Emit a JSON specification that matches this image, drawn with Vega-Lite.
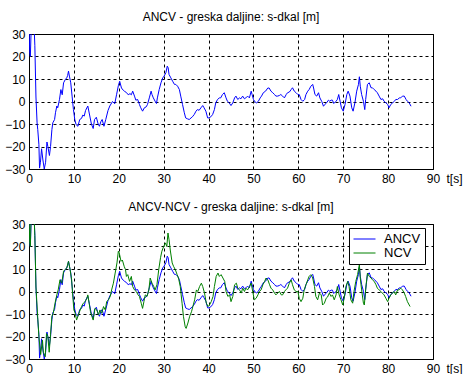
{
  "$schema": "https://vega.github.io/schema/vega-lite/v6.json",
  "padding": {"left": 4, "top": 10, "right": 0, "bottom": 0},
  "background": "white",
  "datasets": {
    "d": [
      {"t":0,"v":35,"s":"ANCV"},{"t":0.15,"v":22,"s":"ANCV"},{"t":0.3,"v":20,"s":"ANCV"},{"t":0.45,"v":30,"s":"ANCV"},{"t":0.6,"v":38,"s":"ANCV"},{"t":1.0,"v":40,"s":"ANCV"},{"t":1.3,"v":25,"s":"ANCV"},{"t":1.55,"v":2,"s":"ANCV"},{"t":1.8,"v":-9.5,"s":"ANCV"},{"t":1.95,"v":-12.5,"s":"ANCV"},{"t":2.2,"v":-19,"s":"ANCV"},{"t":2.35,"v":-29.6,"s":"ANCV"},{"t":2.55,"v":-27,"s":"ANCV"},{"t":2.8,"v":-21,"s":"ANCV"},{"t":3.1,"v":-26,"s":"ANCV"},{"t":3.4,"v":-30,"s":"ANCV"},{"t":3.7,"v":-27,"s":"ANCV"},{"t":4.0,"v":-18,"s":"ANCV"},{"t":4.2,"v":-20,"s":"ANCV"},{"t":4.55,"v":-24,"s":"ANCV"},{"t":4.8,"v":-20,"s":"ANCV"},{"t":5.1,"v":-12.5,"s":"ANCV"},{"t":5.3,"v":-9.5,"s":"ANCV"},{"t":5.7,"v":-8,"s":"ANCV"},{"t":5.9,"v":-5,"s":"ANCV"},{"t":6.2,"v":-2,"s":"ANCV"},{"t":6.4,"v":-2.8,"s":"ANCV"},{"t":6.8,"v":1,"s":"ANCV"},{"t":7.1,"v":5.3,"s":"ANCV"},{"t":7.4,"v":3,"s":"ANCV"},{"t":7.7,"v":8.3,"s":"ANCV"},{"t":8.1,"v":9.8,"s":"ANCV"},{"t":8.4,"v":10.5,"s":"ANCV"},{"t":8.6,"v":11.5,"s":"ANCV"},{"t":8.8,"v":13.5,"s":"ANCV"},{"t":9.0,"v":11.3,"s":"ANCV"},{"t":9.3,"v":8.3,"s":"ANCV"},{"t":9.6,"v":2.4,"s":"ANCV"},{"t":9.9,"v":-3.6,"s":"ANCV"},{"t":10.2,"v":-8,"s":"ANCV"},{"t":10.5,"v":-10.3,"s":"ANCV"},{"t":10.9,"v":-11,"s":"ANCV"},{"t":11.3,"v":-8,"s":"ANCV"},{"t":11.7,"v":-7.5,"s":"ANCV"},{"t":12.0,"v":-6,"s":"ANCV"},{"t":12.3,"v":-6.5,"s":"ANCV"},{"t":12.6,"v":-4,"s":"ANCV"},{"t":13.1,"v":-2,"s":"ANCV"},{"t":13.5,"v":-6,"s":"ANCV"},{"t":13.9,"v":-10,"s":"ANCV"},{"t":14.3,"v":-12,"s":"ANCV"},{"t":14.6,"v":-8,"s":"ANCV"},{"t":15.0,"v":-7,"s":"ANCV"},{"t":15.4,"v":-10,"s":"ANCV"},{"t":15.7,"v":-11,"s":"ANCV"},{"t":16.0,"v":-9,"s":"ANCV"},{"t":16.3,"v":-8,"s":"ANCV"},{"t":16.7,"v":-11,"s":"ANCV"},{"t":17.1,"v":-8,"s":"ANCV"},{"t":17.6,"v":-4,"s":"ANCV"},{"t":18.0,"v":-2,"s":"ANCV"},{"t":18.6,"v":0,"s":"ANCV"},{"t":19.1,"v":-1,"s":"ANCV"},{"t":19.5,"v":3,"s":"ANCV"},{"t":19.9,"v":7,"s":"ANCV"},{"t":20.2,"v":9,"s":"ANCV"},{"t":20.6,"v":6,"s":"ANCV"},{"t":21.0,"v":5,"s":"ANCV"},{"t":21.3,"v":4.5,"s":"ANCV"},{"t":21.7,"v":4,"s":"ANCV"},{"t":22.1,"v":3,"s":"ANCV"},{"t":22.5,"v":3.5,"s":"ANCV"},{"t":22.8,"v":3,"s":"ANCV"},{"t":23.1,"v":4.6,"s":"ANCV"},{"t":23.5,"v":2.4,"s":"ANCV"},{"t":23.8,"v":0.6,"s":"ANCV"},{"t":24.2,"v":0.9,"s":"ANCV"},{"t":24.6,"v":-1.3,"s":"ANCV"},{"t":24.9,"v":-2.8,"s":"ANCV"},{"t":25.3,"v":-4.3,"s":"ANCV"},{"t":25.7,"v":-2.8,"s":"ANCV"},{"t":26.1,"v":-2.4,"s":"ANCV"},{"t":26.4,"v":-1.3,"s":"ANCV"},{"t":26.8,"v":1.6,"s":"ANCV"},{"t":27.2,"v":4.6,"s":"ANCV"},{"t":27.4,"v":3.1,"s":"ANCV"},{"t":27.7,"v":1.6,"s":"ANCV"},{"t":28.1,"v":0.1,"s":"ANCV"},{"t":28.4,"v":-0.9,"s":"ANCV"},{"t":28.6,"v":1.6,"s":"ANCV"},{"t":29.0,"v":5.3,"s":"ANCV"},{"t":29.4,"v":8.3,"s":"ANCV"},{"t":29.8,"v":10.5,"s":"ANCV"},{"t":30.1,"v":11.3,"s":"ANCV"},{"t":30.5,"v":12.8,"s":"ANCV"},{"t":30.8,"v":15.7,"s":"ANCV"},{"t":31.0,"v":15,"s":"ANCV"},{"t":31.2,"v":12,"s":"ANCV"},{"t":31.6,"v":10.5,"s":"ANCV"},{"t":32.0,"v":9,"s":"ANCV"},{"t":32.4,"v":7.6,"s":"ANCV"},{"t":32.7,"v":7.6,"s":"ANCV"},{"t":33.1,"v":6.8,"s":"ANCV"},{"t":33.5,"v":5.3,"s":"ANCV"},{"t":33.8,"v":2.4,"s":"ANCV"},{"t":34.2,"v":-1.3,"s":"ANCV"},{"t":34.6,"v":-5,"s":"ANCV"},{"t":34.9,"v":-7.3,"s":"ANCV"},{"t":35.3,"v":-7.7,"s":"ANCV"},{"t":35.7,"v":-8,"s":"ANCV"},{"t":36.1,"v":-7.3,"s":"ANCV"},{"t":36.4,"v":-6.8,"s":"ANCV"},{"t":36.8,"v":-5.8,"s":"ANCV"},{"t":37.2,"v":-4.3,"s":"ANCV"},{"t":37.5,"v":-3.6,"s":"ANCV"},{"t":37.9,"v":-3.9,"s":"ANCV"},{"t":38.3,"v":-2.8,"s":"ANCV"},{"t":38.7,"v":-1.8,"s":"ANCV"},{"t":39.0,"v":-2.8,"s":"ANCV"},{"t":39.4,"v":-4.3,"s":"ANCV"},{"t":39.8,"v":-7.3,"s":"ANCV"},{"t":40.1,"v":-7.3,"s":"ANCV"},{"t":40.5,"v":-6.8,"s":"ANCV"},{"t":40.9,"v":-5.8,"s":"ANCV"},{"t":41.3,"v":-3.6,"s":"ANCV"},{"t":41.6,"v":-0.6,"s":"ANCV"},{"t":42.0,"v":0.9,"s":"ANCV"},{"t":42.4,"v":1.6,"s":"ANCV"},{"t":42.7,"v":1.6,"s":"ANCV"},{"t":43.1,"v":3.1,"s":"ANCV"},{"t":43.5,"v":3.9,"s":"ANCV"},{"t":43.9,"v":1.6,"s":"ANCV"},{"t":44.2,"v":0.1,"s":"ANCV"},{"t":44.6,"v":-0.6,"s":"ANCV"},{"t":45.0,"v":-1.8,"s":"ANCV"},{"t":45.4,"v":-0.6,"s":"ANCV"},{"t":45.8,"v":1.6,"s":"ANCV"},{"t":46.1,"v":2.4,"s":"ANCV"},{"t":46.5,"v":0.9,"s":"ANCV"},{"t":46.9,"v":1.6,"s":"ANCV"},{"t":47.2,"v":1.2,"s":"ANCV"},{"t":47.6,"v":2.4,"s":"ANCV"},{"t":48.0,"v":1.2,"s":"ANCV"},{"t":48.3,"v":1.6,"s":"ANCV"},{"t":48.7,"v":2.4,"s":"ANCV"},{"t":49.1,"v":1.6,"s":"ANCV"},{"t":49.5,"v":4.6,"s":"ANCV"},{"t":49.7,"v":3.1,"s":"ANCV"},{"t":50.0,"v":0.9,"s":"ANCV"},{"t":50.4,"v":-0.3,"s":"ANCV"},{"t":50.7,"v":-0.6,"s":"ANCV"},{"t":51.1,"v":0.1,"s":"ANCV"},{"t":51.5,"v":1.6,"s":"ANCV"},{"t":51.8,"v":2.4,"s":"ANCV"},{"t":52.2,"v":3.9,"s":"ANCV"},{"t":52.7,"v":4.6,"s":"ANCV"},{"t":53.2,"v":6,"s":"ANCV"},{"t":53.5,"v":6,"s":"ANCV"},{"t":53.9,"v":4.6,"s":"ANCV"},{"t":54.3,"v":3.9,"s":"ANCV"},{"t":54.7,"v":3.1,"s":"ANCV"},{"t":55.0,"v":2.4,"s":"ANCV"},{"t":55.4,"v":2.4,"s":"ANCV"},{"t":55.8,"v":2.7,"s":"ANCV"},{"t":56.1,"v":3.1,"s":"ANCV"},{"t":56.5,"v":2.4,"s":"ANCV"},{"t":56.9,"v":1.6,"s":"ANCV"},{"t":57.3,"v":3.1,"s":"ANCV"},{"t":57.6,"v":3.9,"s":"ANCV"},{"t":58.0,"v":4.2,"s":"ANCV"},{"t":58.4,"v":5.3,"s":"ANCV"},{"t":58.7,"v":6.1,"s":"ANCV"},{"t":59.1,"v":4.6,"s":"ANCV"},{"t":59.5,"v":3.9,"s":"ANCV"},{"t":59.9,"v":3.1,"s":"ANCV"},{"t":60.2,"v":3.1,"s":"ANCV"},{"t":60.6,"v":0.9,"s":"ANCV"},{"t":61.0,"v":0.1,"s":"ANCV"},{"t":61.4,"v":0.9,"s":"ANCV"},{"t":61.7,"v":3.1,"s":"ANCV"},{"t":62.1,"v":4.6,"s":"ANCV"},{"t":62.4,"v":5.3,"s":"ANCV"},{"t":62.8,"v":6.8,"s":"ANCV"},{"t":63.2,"v":7.6,"s":"ANCV"},{"t":63.4,"v":6,"s":"ANCV"},{"t":63.7,"v":3.1,"s":"ANCV"},{"t":64.1,"v":2.4,"s":"ANCV"},{"t":64.5,"v":3.9,"s":"ANCV"},{"t":64.8,"v":1.6,"s":"ANCV"},{"t":65.2,"v":0.1,"s":"ANCV"},{"t":65.6,"v":-2.1,"s":"ANCV"},{"t":65.9,"v":-1.3,"s":"ANCV"},{"t":66.3,"v":-0.6,"s":"ANCV"},{"t":66.7,"v":0.6,"s":"ANCV"},{"t":67.0,"v":0.1,"s":"ANCV"},{"t":67.3,"v":0.6,"s":"ANCV"},{"t":67.6,"v":0.6,"s":"ANCV"},{"t":67.9,"v":-0.9,"s":"ANCV"},{"t":68.4,"v":0.1,"s":"ANCV"},{"t":68.7,"v":0.9,"s":"ANCV"},{"t":69.0,"v":3.1,"s":"ANCV"},{"t":69.3,"v":0.1,"s":"ANCV"},{"t":69.6,"v":-2.8,"s":"ANCV"},{"t":70.0,"v":-4.3,"s":"ANCV"},{"t":70.4,"v":-1.3,"s":"ANCV"},{"t":70.8,"v":3.1,"s":"ANCV"},{"t":71.1,"v":4.6,"s":"ANCV"},{"t":71.5,"v":2.4,"s":"ANCV"},{"t":71.9,"v":-2.8,"s":"ANCV"},{"t":72.2,"v":-4.3,"s":"ANCV"},{"t":72.6,"v":-0.6,"s":"ANCV"},{"t":73.0,"v":4.6,"s":"ANCV"},{"t":73.4,"v":7.6,"s":"ANCV"},{"t":73.6,"v":11,"s":"ANCV"},{"t":73.8,"v":6.8,"s":"ANCV"},{"t":74.1,"v":3.1,"s":"ANCV"},{"t":74.5,"v":0.1,"s":"ANCV"},{"t":74.8,"v":-3.6,"s":"ANCV"},{"t":75.0,"v":0.9,"s":"ANCV"},{"t":75.4,"v":7.6,"s":"ANCV"},{"t":75.8,"v":8.3,"s":"ANCV"},{"t":76.2,"v":6.1,"s":"ANCV"},{"t":76.5,"v":6.1,"s":"ANCV"},{"t":76.9,"v":5.3,"s":"ANCV"},{"t":77.3,"v":4.6,"s":"ANCV"},{"t":77.6,"v":3.9,"s":"ANCV"},{"t":78.0,"v":2.4,"s":"ANCV"},{"t":78.4,"v":0.9,"s":"ANCV"},{"t":78.8,"v":1.2,"s":"ANCV"},{"t":79.1,"v":0.1,"s":"ANCV"},{"t":79.5,"v":-0.6,"s":"ANCV"},{"t":79.9,"v":-1.3,"s":"ANCV"},{"t":80.2,"v":-2.8,"s":"ANCV"},{"t":80.6,"v":-1.3,"s":"ANCV"},{"t":81.0,"v":-0.6,"s":"ANCV"},{"t":81.4,"v":0.1,"s":"ANCV"},{"t":81.7,"v":0.9,"s":"ANCV"},{"t":82.1,"v":0.9,"s":"ANCV"},{"t":82.5,"v":1.6,"s":"ANCV"},{"t":82.8,"v":1.6,"s":"ANCV"},{"t":83.2,"v":2.4,"s":"ANCV"},{"t":83.6,"v":2.4,"s":"ANCV"},{"t":84.0,"v":0.9,"s":"ANCV"},{"t":84.3,"v":0.1,"s":"ANCV"},{"t":84.7,"v":-0.6,"s":"ANCV"},{"t":85.1,"v":-2.1,"s":"ANCV"},
      {"t":0,"v":35,"s":"NCV"},{"t":0.15,"v":22,"s":"NCV"},{"t":0.3,"v":20,"s":"NCV"},{"t":0.45,"v":32,"s":"NCV"},{"t":0.6,"v":38,"s":"NCV"},{"t":1.0,"v":40,"s":"NCV"},{"t":1.3,"v":25,"s":"NCV"},{"t":1.55,"v":2,"s":"NCV"},{"t":1.9,"v":-10,"s":"NCV"},{"t":2.2,"v":-20,"s":"NCV"},{"t":2.6,"v":-28,"s":"NCV"},{"t":3.0,"v":-21.6,"s":"NCV"},{"t":3.2,"v":-27,"s":"NCV"},{"t":3.6,"v":-29,"s":"NCV"},{"t":3.9,"v":-18.7,"s":"NCV"},{"t":4.2,"v":-20,"s":"NCV"},{"t":4.5,"v":-27,"s":"NCV"},{"t":4.8,"v":-19,"s":"NCV"},{"t":5.1,"v":-11,"s":"NCV"},{"t":5.4,"v":-9.7,"s":"NCV"},{"t":5.8,"v":-5.2,"s":"NCV"},{"t":6.2,"v":-1.5,"s":"NCV"},{"t":6.5,"v":0.7,"s":"NCV"},{"t":6.9,"v":5.2,"s":"NCV"},{"t":7.3,"v":3.7,"s":"NCV"},{"t":7.7,"v":9,"s":"NCV"},{"t":8.0,"v":9.7,"s":"NCV"},{"t":8.4,"v":10.4,"s":"NCV"},{"t":8.8,"v":13.4,"s":"NCV"},{"t":9.1,"v":10.4,"s":"NCV"},{"t":9.5,"v":5.2,"s":"NCV"},{"t":9.7,"v":-0.7,"s":"NCV"},{"t":10.0,"v":-8.2,"s":"NCV"},{"t":10.3,"v":-9.7,"s":"NCV"},{"t":10.6,"v":-12.7,"s":"NCV"},{"t":11.0,"v":-10.4,"s":"NCV"},{"t":11.4,"v":-8.2,"s":"NCV"},{"t":11.7,"v":-6.7,"s":"NCV"},{"t":12.1,"v":-5.2,"s":"NCV"},{"t":12.5,"v":-4.5,"s":"NCV"},{"t":12.9,"v":-3,"s":"NCV"},{"t":13.1,"v":-1.5,"s":"NCV"},{"t":13.4,"v":-5.2,"s":"NCV"},{"t":13.7,"v":-9,"s":"NCV"},{"t":14.0,"v":-11,"s":"NCV"},{"t":14.3,"v":-12.7,"s":"NCV"},{"t":14.7,"v":-7.5,"s":"NCV"},{"t":15.1,"v":-8.2,"s":"NCV"},{"t":15.5,"v":-10.4,"s":"NCV"},{"t":15.8,"v":-8.2,"s":"NCV"},{"t":16.2,"v":-9.7,"s":"NCV"},{"t":16.6,"v":-6.7,"s":"NCV"},{"t":17.0,"v":-8.2,"s":"NCV"},{"t":17.3,"v":-4.5,"s":"NCV"},{"t":17.7,"v":-3.7,"s":"NCV"},{"t":18.1,"v":-2.2,"s":"NCV"},{"t":18.4,"v":0.7,"s":"NCV"},{"t":18.8,"v":3.7,"s":"NCV"},{"t":19.2,"v":8.2,"s":"NCV"},{"t":19.6,"v":12.7,"s":"NCV"},{"t":19.9,"v":17.9,"s":"NCV"},{"t":20.1,"v":17.2,"s":"NCV"},{"t":20.5,"v":13.4,"s":"NCV"},{"t":20.8,"v":14,"s":"NCV"},{"t":21.2,"v":11.2,"s":"NCV"},{"t":21.5,"v":9.7,"s":"NCV"},{"t":21.7,"v":6.7,"s":"NCV"},{"t":22.0,"v":7.5,"s":"NCV"},{"t":22.4,"v":4.5,"s":"NCV"},{"t":22.8,"v":6.7,"s":"NCV"},{"t":23.1,"v":2.2,"s":"NCV"},{"t":23.5,"v":0.7,"s":"NCV"},{"t":23.9,"v":0,"s":"NCV"},{"t":24.3,"v":-1.5,"s":"NCV"},{"t":24.6,"v":-2.2,"s":"NCV"},{"t":25.0,"v":-5.2,"s":"NCV"},{"t":25.3,"v":-7.5,"s":"NCV"},{"t":25.6,"v":-4.5,"s":"NCV"},{"t":25.9,"v":-1.5,"s":"NCV"},{"t":26.3,"v":-2.2,"s":"NCV"},{"t":26.7,"v":0.7,"s":"NCV"},{"t":27.0,"v":6,"s":"NCV"},{"t":27.4,"v":3.7,"s":"NCV"},{"t":27.8,"v":2.2,"s":"NCV"},{"t":28.1,"v":0.7,"s":"NCV"},{"t":28.5,"v":3,"s":"NCV"},{"t":28.9,"v":9.7,"s":"NCV"},{"t":29.3,"v":15,"s":"NCV"},{"t":29.6,"v":17.9,"s":"NCV"},{"t":30.0,"v":20,"s":"NCV"},{"t":30.4,"v":21.6,"s":"NCV"},{"t":30.7,"v":20,"s":"NCV"},{"t":30.96,"v":26,"s":"NCV"},{"t":31.2,"v":23,"s":"NCV"},{"t":31.5,"v":18,"s":"NCV"},{"t":31.9,"v":12.7,"s":"NCV"},{"t":32.2,"v":11.2,"s":"NCV"},{"t":32.6,"v":9.7,"s":"NCV"},{"t":33.0,"v":7.5,"s":"NCV"},{"t":33.3,"v":6,"s":"NCV"},{"t":33.7,"v":2.2,"s":"NCV"},{"t":34.1,"v":-5.2,"s":"NCV"},{"t":34.4,"v":-11,"s":"NCV"},{"t":34.8,"v":-15.7,"s":"NCV"},{"t":35.0,"v":-16.4,"s":"NCV"},{"t":35.4,"v":-14,"s":"NCV"},{"t":35.8,"v":-11,"s":"NCV"},{"t":36.2,"v":-9,"s":"NCV"},{"t":36.5,"v":-6.7,"s":"NCV"},{"t":36.9,"v":-3.7,"s":"NCV"},{"t":37.3,"v":0.7,"s":"NCV"},{"t":37.6,"v":0,"s":"NCV"},{"t":38.0,"v":2.2,"s":"NCV"},{"t":38.4,"v":3.7,"s":"NCV"},{"t":38.7,"v":2.2,"s":"NCV"},{"t":39.1,"v":-0.7,"s":"NCV"},{"t":39.5,"v":-5.2,"s":"NCV"},{"t":39.9,"v":-6.7,"s":"NCV"},{"t":40.2,"v":-6,"s":"NCV"},{"t":40.6,"v":-4.5,"s":"NCV"},{"t":41.0,"v":-2.2,"s":"NCV"},{"t":41.3,"v":2.2,"s":"NCV"},{"t":41.7,"v":6.7,"s":"NCV"},{"t":42.1,"v":8.2,"s":"NCV"},{"t":42.4,"v":6.7,"s":"NCV"},{"t":42.8,"v":7.5,"s":"NCV"},{"t":43.2,"v":6,"s":"NCV"},{"t":43.6,"v":4.5,"s":"NCV"},{"t":43.9,"v":0,"s":"NCV"},{"t":44.3,"v":-2.2,"s":"NCV"},{"t":44.7,"v":-1.5,"s":"NCV"},{"t":45.0,"v":-4.5,"s":"NCV"},{"t":45.4,"v":-2.2,"s":"NCV"},{"t":45.8,"v":3,"s":"NCV"},{"t":46.2,"v":3.7,"s":"NCV"},{"t":46.5,"v":1.5,"s":"NCV"},{"t":46.9,"v":0.7,"s":"NCV"},{"t":47.3,"v":-0.7,"s":"NCV"},{"t":47.6,"v":1.5,"s":"NCV"},{"t":48.0,"v":0,"s":"NCV"},{"t":48.3,"v":1.5,"s":"NCV"},{"t":48.7,"v":0.7,"s":"NCV"},{"t":49.1,"v":2.2,"s":"NCV"},{"t":49.5,"v":3.7,"s":"NCV"},{"t":49.9,"v":-0.7,"s":"NCV"},{"t":50.2,"v":-3.7,"s":"NCV"},{"t":50.6,"v":-3,"s":"NCV"},{"t":51.0,"v":-1.5,"s":"NCV"},{"t":51.3,"v":0,"s":"NCV"},{"t":51.7,"v":0.7,"s":"NCV"},{"t":52.1,"v":3,"s":"NCV"},{"t":52.5,"v":4.5,"s":"NCV"},{"t":52.8,"v":6,"s":"NCV"},{"t":53.2,"v":5.2,"s":"NCV"},{"t":53.6,"v":3,"s":"NCV"},{"t":53.9,"v":1.5,"s":"NCV"},{"t":54.3,"v":0.7,"s":"NCV"},{"t":54.7,"v":-0.7,"s":"NCV"},{"t":55.0,"v":-1.5,"s":"NCV"},{"t":55.4,"v":-0.7,"s":"NCV"},{"t":55.8,"v":0,"s":"NCV"},{"t":56.2,"v":-1.5,"s":"NCV"},{"t":56.5,"v":-1.5,"s":"NCV"},{"t":56.9,"v":0,"s":"NCV"},{"t":57.2,"v":0.7,"s":"NCV"},{"t":57.6,"v":1.5,"s":"NCV"},{"t":58.0,"v":3.7,"s":"NCV"},{"t":58.4,"v":5.2,"s":"NCV"},{"t":58.7,"v":3,"s":"NCV"},{"t":59.1,"v":0.7,"s":"NCV"},{"t":59.5,"v":0,"s":"NCV"},{"t":59.9,"v":0,"s":"NCV"},{"t":60.2,"v":-3,"s":"NCV"},{"t":60.6,"v":-4.5,"s":"NCV"},{"t":61.0,"v":-3,"s":"NCV"},{"t":61.3,"v":0.7,"s":"NCV"},{"t":61.7,"v":3,"s":"NCV"},{"t":62.1,"v":5.2,"s":"NCV"},{"t":62.4,"v":6.7,"s":"NCV"},{"t":62.8,"v":7.5,"s":"NCV"},{"t":63.2,"v":6,"s":"NCV"},{"t":63.6,"v":2.2,"s":"NCV"},{"t":63.9,"v":-2.2,"s":"NCV"},{"t":64.3,"v":-3.7,"s":"NCV"},{"t":64.7,"v":-0.7,"s":"NCV"},{"t":65.1,"v":-1.5,"s":"NCV"},{"t":65.4,"v":-6,"s":"NCV"},{"t":65.8,"v":-5.2,"s":"NCV"},{"t":66.2,"v":-3,"s":"NCV"},{"t":66.5,"v":-2.5,"s":"NCV"},{"t":66.9,"v":-0.7,"s":"NCV"},{"t":67.3,"v":-2.2,"s":"NCV"},{"t":67.6,"v":-1.5,"s":"NCV"},{"t":68.0,"v":-3.7,"s":"NCV"},{"t":68.4,"v":-1.5,"s":"NCV"},{"t":68.7,"v":2.2,"s":"NCV"},{"t":69.1,"v":-1.5,"s":"NCV"},{"t":69.5,"v":-3.7,"s":"NCV"},{"t":69.9,"v":-6,"s":"NCV"},{"t":70.2,"v":-3,"s":"NCV"},{"t":70.6,"v":2.2,"s":"NCV"},{"t":71.0,"v":4.5,"s":"NCV"},{"t":71.3,"v":2.2,"s":"NCV"},{"t":71.7,"v":-3.7,"s":"NCV"},{"t":72.1,"v":-5.2,"s":"NCV"},{"t":72.4,"v":0,"s":"NCV"},{"t":72.8,"v":4.5,"s":"NCV"},{"t":73.2,"v":7.5,"s":"NCV"},{"t":73.6,"v":12,"s":"NCV"},{"t":73.8,"v":6,"s":"NCV"},{"t":74.1,"v":0.7,"s":"NCV"},{"t":74.5,"v":-5.2,"s":"NCV"},{"t":74.7,"v":-6,"s":"NCV"},{"t":75.1,"v":3,"s":"NCV"},{"t":75.4,"v":8.2,"s":"NCV"},{"t":75.8,"v":6.7,"s":"NCV"},{"t":76.2,"v":6,"s":"NCV"},{"t":76.5,"v":5.2,"s":"NCV"},{"t":76.9,"v":4.5,"s":"NCV"},{"t":77.3,"v":3,"s":"NCV"},{"t":77.6,"v":1.5,"s":"NCV"},{"t":78.0,"v":0.7,"s":"NCV"},{"t":78.4,"v":0,"s":"NCV"},{"t":78.7,"v":-0.7,"s":"NCV"},{"t":79.1,"v":-1.5,"s":"NCV"},{"t":79.5,"v":-3,"s":"NCV"},{"t":79.9,"v":-4.5,"s":"NCV"},{"t":80.2,"v":-3,"s":"NCV"},{"t":80.6,"v":-1.5,"s":"NCV"},{"t":81.0,"v":-0.7,"s":"NCV"},{"t":81.3,"v":0,"s":"NCV"},{"t":81.7,"v":-1.5,"s":"NCV"},{"t":82.1,"v":0.7,"s":"NCV"},{"t":82.4,"v":0.7,"s":"NCV"},{"t":82.8,"v":1.5,"s":"NCV"},{"t":83.2,"v":0.7,"s":"NCV"},{"t":83.6,"v":-0.7,"s":"NCV"},{"t":83.9,"v":-2.2,"s":"NCV"},{"t":84.3,"v":-4.5,"s":"NCV"},{"t":84.7,"v":-6,"s":"NCV"},{"t":84.9,"v":-6.7,"s":"NCV"}
    ]
  },
  "vconcat": [
    {
      "width": 404,
      "height": 135,
      "title": "ANCV - greska daljine: s-dkal [m]",
      "data": {"name": "d"},
      "transform": [{"filter": "datum.s === 'ANCV'"}],
      "mark": {"type": "line", "color": "#0000ff", "strokeWidth": 1, "clip": true},
      "encoding": {
        "x": {"field": "t", "type": "quantitative", "scale": {"domain": [0, 90], "nice": false},
          "axis": {"values": [0,10,20,30,40,50,60,70,80,90], "title": "t[s]", "titleX": 417, "titleY": 9, "titleAlign": "left", "titleBaseline": "middle", "titleAngle": 0}},
        "y": {"field": "v", "type": "quantitative", "scale": {"domain": [-30, 30], "nice": false, "zero": false},
          "axis": {"values": [-30,-20,-10,0,10,20,30], "title": null}}
      }
    },
    {
      "width": 404,
      "height": 135,
      "title": "ANCV-NCV - greska daljine: s-dkal [m]",
      "data": {"name": "d"},
      "mark": {"type": "line", "strokeWidth": 1, "clip": true},
      "encoding": {
        "x": {"field": "t", "type": "quantitative", "scale": {"domain": [0, 90], "nice": false},
          "axis": {"values": [0,10,20,30,40,50,60,70,80,90], "title": "t[s]", "titleX": 417, "titleY": 9, "titleAlign": "left", "titleBaseline": "middle", "titleAngle": 0}},
        "y": {"field": "v", "type": "quantitative", "scale": {"domain": [-30, 30], "nice": false, "zero": false},
          "axis": {"values": [-30,-20,-10,0,10,20,30], "title": null}},
        "color": {"field": "s", "type": "nominal", "scale": {"domain": ["ANCV", "NCV"], "range": ["#0000ff", "#008000"]},
          "legend": {"orient": "none", "legendX": 320, "legendY": 4, "title": null, "symbolType": "stroke", "symbolSize": 484, "symbolStrokeWidth": 1, "clipHeight": 14, "labelFontSize": 13, "labelColor": "black", "strokeColor": "black", "fillColor": "white", "padding": 4, "rowPadding": 0, "labelOffset": 8, "direction": "vertical"}}
      }
    }
  ],
  "resolve": {"legend": {"color": "independent"}},
  "spacing": 55,
  "bounds": "flush",
  "config": {
    "font": "Liberation Sans",
    "view": {"stroke": "black", "strokeWidth": 1},
    "axis": {"grid": true, "gridColor": "black", "gridDash": [3, 3], "gridOpacity": 1, "gridWidth": 1, "ticks": false, "tickSize": 0, "domain": false, "labelFontSize": 12, "labelColor": "black", "labelPadding": 4, "labelFlush": false, "labelOverlap": false, "titleFontSize": 12, "titleFontWeight": "normal", "titleColor": "black", "titlePadding": 0},
    "title": {"fontSize": 12, "fontWeight": "normal", "color": "black", "offset": 0}
  }
}
